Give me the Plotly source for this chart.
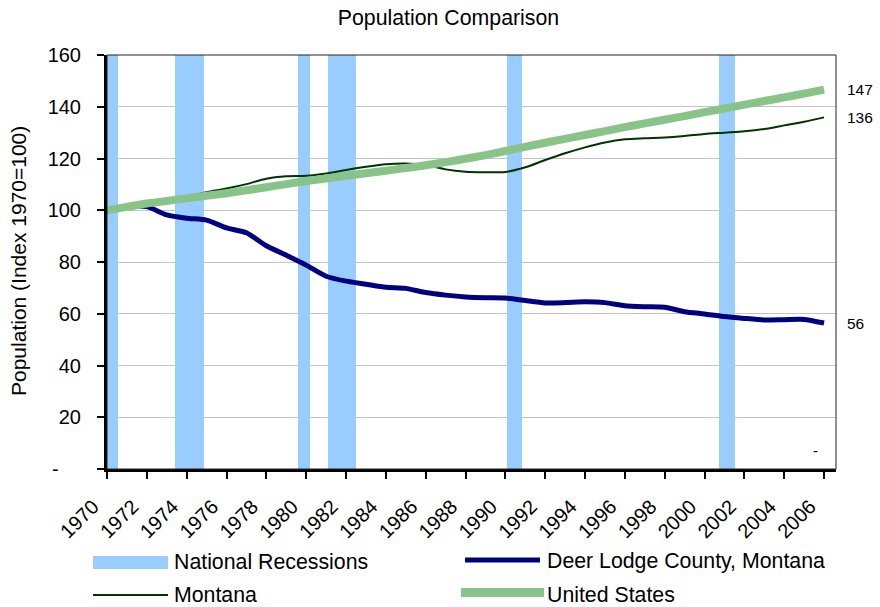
import plotly.graph_objects as go

# ---------------- data ----------------
years = list(range(1970, 2007))
deer_lodge = [100.0, 101.5, 101.4, 98.2, 96.9, 96.2, 93.2, 91.3, 86.3, 82.6,
              78.8, 74.5, 72.6, 71.4, 70.2, 69.8, 68.2, 67.2, 66.5, 66.2,
              66.1, 65.1, 64.2, 64.3, 64.6, 64.3, 63.1, 62.7, 62.5, 60.8,
              59.9, 58.9, 58.2, 57.6, 57.7, 57.8, 56.4]
montana = [100.0, 101.5, 103.0, 104.0, 105.2, 107.0, 108.4, 110.1, 112.2, 113.1,
           113.3, 114.2, 115.6, 116.8, 117.8, 118.1, 117.5, 115.8, 114.9, 114.7,
           114.8, 116.6, 119.4, 122.0, 124.3, 126.2, 127.4, 127.8, 128.1, 128.7,
           129.5, 130.0, 130.5, 131.4, 132.8, 134.2, 135.9]
united_states = [100.0, 101.3, 102.6, 103.6, 104.6, 105.6, 106.6, 107.7, 108.9, 110.1,
                 111.3, 112.3, 113.3, 114.3, 115.3, 116.3, 117.4, 118.6, 119.9, 121.3,
                 122.9, 124.5, 126.1, 127.6, 129.1, 130.6, 132.1, 133.6, 135.0, 136.4,
                 137.9, 139.3, 140.8, 142.2, 143.6, 145.1, 146.6]
recession_start = [1969.9, 1973.41, 1979.59, 1981.09, 1990.08, 2000.72]
recession_end = [1970.55, 1974.87, 1980.19, 1982.50, 1990.83, 2001.53]
recession_top = 160

y_ticks = [0, 20, 40, 60, 80, 100, 120, 140, 160]
y_tick_labels = ["-\u00a0\u00a0\u00a0\u00a0", "20", "40", "60", "80", "100", "120", "140", "160"]
x_ticks = list(range(1970, 2007, 2))
x_tick_labels = [str(y) for y in x_ticks]

title_text = "Population Comparison"
y_title = "Population (Index 1970=100)"
legend_names = ["National Recessions", "Deer Lodge County, Montana", "Montana", "United States"]

# ---------------- styles ----------------
FONT = "Liberation Sans, Arial, Helvetica, sans-serif"
C_REC = "#99ccff"
C_DEER = "#000080"
C_MT = "#003300"
C_US = "#88c488"

W, H = 880, 607
L, R, T, B = 107, 836, 55, 469


def px(x):
    return (x - L) / (R - L)


def py(y):
    return (B - y) / (B - T)


fig = go.Figure()

fig.add_trace(go.Bar(
    x=[(s + e) / 2 for s, e in zip(recession_start, recession_end)],
    y=[recession_top] * len(recession_start),
    width=[e - s for s, e in zip(recession_start, recession_end)],
    base=0,
    marker=dict(color=C_REC, line=dict(width=0)),
    name=legend_names[0], showlegend=False, hoverinfo="skip",
))
fig.add_trace(go.Scatter(
    x=years, y=deer_lodge, mode="lines", name=legend_names[1], showlegend=False,
    line=dict(color=C_DEER, width=5, shape="spline", smoothing=0.6),
))
fig.add_trace(go.Scatter(
    x=years, y=montana, mode="lines", name=legend_names[2], showlegend=False,
    line=dict(color=C_MT, width=2, shape="spline", smoothing=0.8),
))
fig.add_trace(go.Scatter(
    x=years, y=united_states, mode="lines", name=legend_names[3], showlegend=False,
    line=dict(color=C_US, width=8, shape="spline", smoothing=0.6),
))

shapes = []
annotations = []

# thin border on top/right
shapes.append(dict(type="rect", xref="paper", yref="paper", x0=0, x1=1, y0=0, y1=1,
                   line=dict(color="#222222", width=1), layer="above"))

# end labels
for series in (united_states, montana, deer_lodge):
    annotations.append(dict(xref="paper", yref="y", x=px(845), y=series[-1],
                            text=str(round(series[-1])), showarrow=False,
                            xanchor="left", yanchor="middle",
                            font=dict(family=FONT, size=15.5, color="black")))
annotations.append(dict(xref="x", yref="y", x=2005.55, y=7, text="-", showarrow=False,
                        xanchor="center", yanchor="middle",
                        font=dict(family=FONT, size=15, color="black")))

# y-axis title
annotations.append(dict(xref="paper", yref="paper", x=px(18), y=py(261), text=y_title,
                        textangle=-90, showarrow=False, xanchor="center", yanchor="middle",
                        font=dict(family=FONT, size=21, color="black")))

# custom legend
leg_font = dict(family=FONT, size=21.3, color="black")
shapes.append(dict(type="rect", xref="paper", yref="paper", x0=px(93), x1=px(168),
                   y0=py(569), y1=py(556), fillcolor=C_REC, line=dict(width=0)))
annotations.append(dict(xref="paper", yref="paper", x=px(172), y=py(562), text=legend_names[0],
                        showarrow=False, xanchor="left", yanchor="middle", font=leg_font))
shapes.append(dict(type="line", xref="paper", yref="paper", x0=px(93), x1=px(168),
                   y0=py(595), y1=py(595), line=dict(color=C_MT, width=2)))
annotations.append(dict(xref="paper", yref="paper", x=px(172), y=py(595), text=legend_names[2],
                        showarrow=False, xanchor="left", yanchor="middle", font=leg_font))
shapes.append(dict(type="line", xref="paper", yref="paper", x0=px(465), x1=px(540),
                   y0=py(560), y1=py(560), line=dict(color=C_DEER, width=5)))
annotations.append(dict(xref="paper", yref="paper", x=px(545), y=py(561), text=legend_names[1],
                        showarrow=False, xanchor="left", yanchor="middle", font=leg_font))
shapes.append(dict(type="rect", xref="paper", yref="paper", x0=px(461), x1=px(544),
                   y0=py(597), y1=py(588), fillcolor=C_US, line=dict(width=0)))
annotations.append(dict(xref="paper", yref="paper", x=px(545), y=py(595), text=legend_names[3],
                        showarrow=False, xanchor="left", yanchor="middle", font=leg_font))

fig.update_layout(
    width=W, height=H,
    margin=dict(l=L, r=W - R, t=T, b=H - B, pad=0),
    paper_bgcolor="white", plot_bgcolor="white",
    title=dict(text=title_text, x=448.5 / W, xref="container", xanchor="center",
               y=1 - 18 / H, yref="container", yanchor="middle",
               font=dict(family=FONT, size=21.3, color="black")),
    showlegend=False,
    bargap=0,
    shapes=shapes, annotations=annotations,
    font=dict(family=FONT, color="black"),
)
fig.update_xaxes(
    range=[1970, 2006.6], tickmode="array", tickvals=x_ticks, ticktext=x_tick_labels,
    tickangle=-45, ticks="outside", ticklen=7, tickwidth=2, tickcolor="black",
    showline=True, linewidth=3, linecolor="black", showgrid=False, zeroline=False,
    ticklabelstandoff=8, ticklabelshift=-14,
    tickfont=dict(family=FONT, size=20, color="black"),
)
fig.update_yaxes(
    range=[0, 160], tickmode="array", tickvals=y_ticks, ticktext=y_tick_labels,
    ticks="outside", ticklen=7, tickwidth=2, tickcolor="black",
    showline=True, linewidth=3, linecolor="black", showgrid=True, gridcolor="#c4c4c4",
    gridwidth=1, zeroline=False, ticklabelstandoff=12,
    tickfont=dict(family=FONT, size=20, color="black"),
)

fig.write_html(
    "out.html",
    config={"displayModeBar": False},
    post_script="document.body.style.margin='0';document.body.style.overflow='hidden';",
)
